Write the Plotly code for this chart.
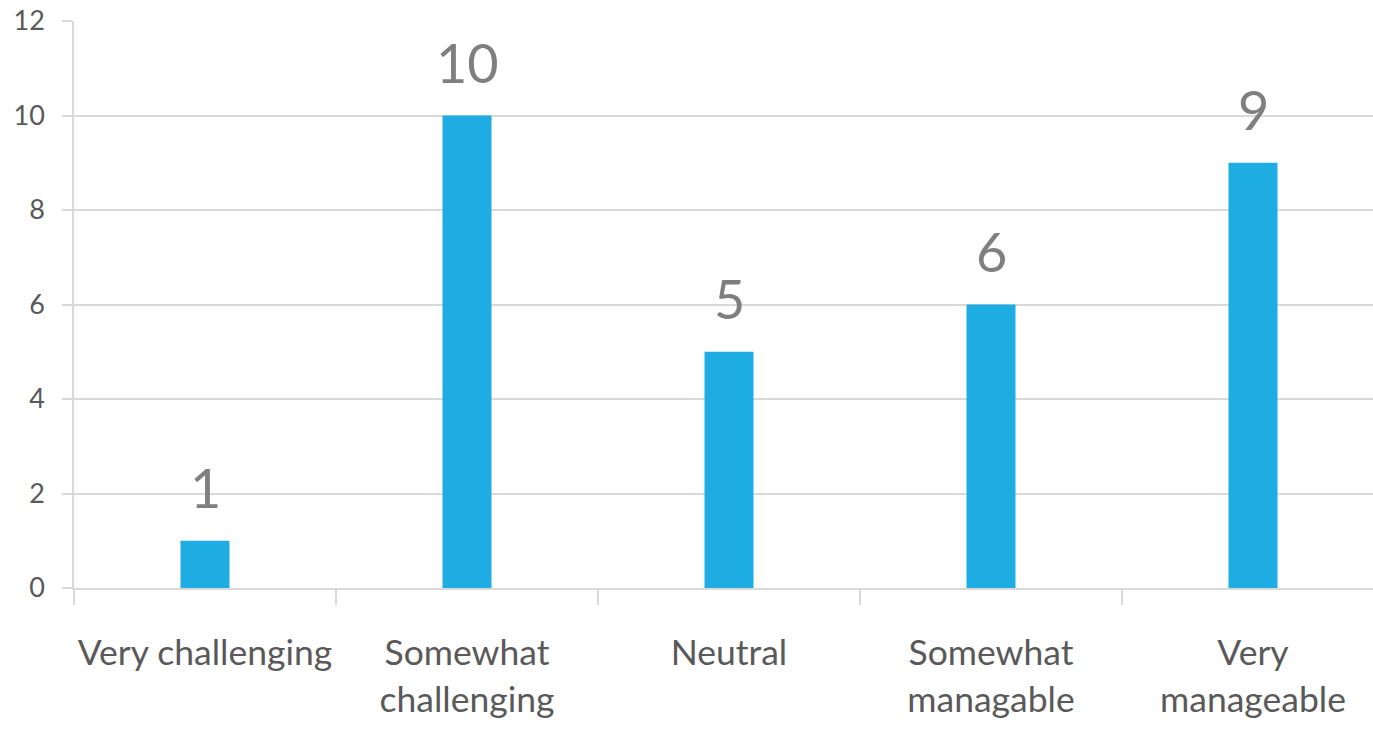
import plotly.graph_objects as go

categories = ["Very challenging", "Somewhat<br>challenging", "Neutral", "Somewhat<br>managable", "Very<br>manageable"]
values = [1, 10, 5, 6, 9]
y_ticks = [0, 2, 4, 6, 8, 10, 12]

bar_color = "#1EADE3"
grid_color = "#D9D9D9"
text_color = "#595959"
label_color = "#7F7F7F"
font_cat = "Lato, sans-serif"
font_num = "Lato, Liberation Sans, sans-serif"

fig = go.Figure()
fig.add_trace(go.Bar(
    x=categories, y=values, marker=dict(color=bar_color, line=dict(width=0)),
    width=0.187, showlegend=False, hoverinfo="skip",
))

for c, v in zip(categories, values):
    fig.add_annotation(
        x=c, y=v, text=str(v), showarrow=False, yanchor="bottom", yshift=19,
        font=dict(family=font_num, size=54, color=label_color),
    )

fig.update_layout(
    width=1373, height=731,
    margin=dict(l=74, r=0, t=21, b=143),
    plot_bgcolor="white", paper_bgcolor="white",
    xaxis=dict(
        type="category", range=[-0.5, 4.458], automargin=False,
        showgrid=False, showline=True, linecolor=grid_color, linewidth=1.5,
        ticks="outside", tickson="boundaries", ticklen=15, tickcolor=grid_color, tickwidth=1.5,
        tickfont=dict(family=font_cat, size=35.5, color=text_color),
        tickangle=0, ticklabelstandoff=33,
    ),
    yaxis=dict(
        range=[0, 12], tickvals=y_ticks, automargin=False,
        showgrid=True, gridcolor=grid_color, gridwidth=1.5,
        showline=True, linecolor=grid_color, linewidth=1.5, zeroline=False,
        ticks="outside", ticklen=10, tickcolor=grid_color, tickwidth=1.5,
        tickfont=dict(family=font_num, size=27, color=text_color),
        ticklabelstandoff=12, ticklabeloverflow="allow",
    ),
)

fig.write_html(
    "out.html",
    config={"displayModeBar": False},
    post_script="document.body.style.margin='0';document.body.style.overflow='hidden';",
)
